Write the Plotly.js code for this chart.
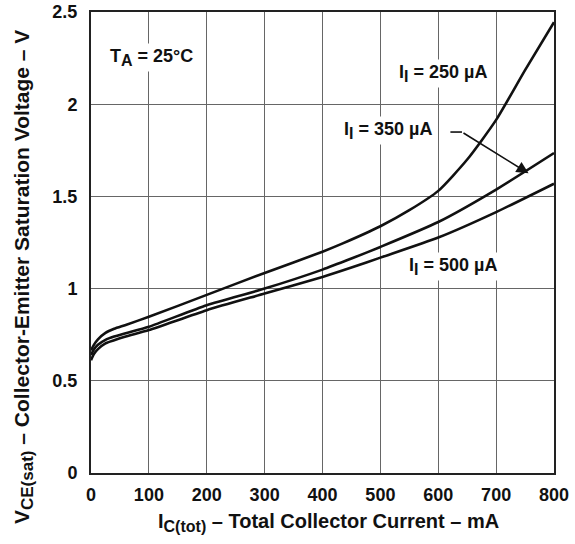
<!DOCTYPE html>
<html>
<head>
<meta charset="utf-8">
<script src="https://cdn.plot.ly/plotly-3.0.1.min.js"></script>
<style>html,body{margin:0;padding:0;background:#fff;}#chart{width:575px;height:544px;}</style>
</head>
<body>
<div id="chart"></div>
<script>
// Data
const x250 = [0, 5, 12, 25, 40, 60, 100, 200, 300, 400, 435, 500, 550, 600, 650, 700, 750, 800];
const y250 = [0.665, 0.695, 0.725, 0.76, 0.782, 0.803, 0.847, 0.966, 1.085, 1.20, 1.245, 1.338, 1.425, 1.53, 1.70, 1.915, 2.185, 2.445];

const x350 = [0, 5, 12, 25, 40, 60, 100, 200, 300, 400, 450, 500, 600, 700, 800];
const y350 = [0.64, 0.67, 0.695, 0.722, 0.74, 0.758, 0.793, 0.91, 1.0, 1.103, 1.163, 1.226, 1.361, 1.537, 1.735];

const x500 = [0, 5, 12, 25, 40, 60, 100, 200, 300, 400, 450, 500, 600, 700, 800];
const y500 = [0.612, 0.645, 0.672, 0.703, 0.72, 0.74, 0.775, 0.883, 0.973, 1.063, 1.114, 1.168, 1.277, 1.415, 1.569];

const xTicks = [0, 100, 200, 300, 400, 500, 600, 700, 800];
const yTicks = [0, 0.5, 1, 1.5, 2, 2.5];
const yTickText = ['0', '0.5', '1', '1.5', '2', '2.5'];

const FONT = 'Liberation Sans, Arial, Helvetica, sans-serif';
const lineStyle = {color: '#111', width: 2.6, shape: 'spline', smoothing: 0.6};

const traces = [
  {x: x250, y: y250, mode: 'lines', line: lineStyle, hoverinfo: 'skip'},
  {x: x350, y: y350, mode: 'lines', line: lineStyle, hoverinfo: 'skip'},
  {x: x500, y: y500, mode: 'lines', line: lineStyle, hoverinfo: 'skip'}
];

const labelFont = {family: FONT, size: 18, color: '#111', weight: 'bold'};
const sub = (s, px) => '<sub><span style="font-size:' + px + 'px">' + s + '</span></sub>';

const layout = {
  width: 575, height: 544,
  margin: {l: 91, r: 21, t: 12, b: 71},
  paper_bgcolor: '#fff', plot_bgcolor: '#fff',
  showlegend: false,
  font: {family: FONT, size: 17, color: '#111'},
  xaxis: {
    range: [0, 800], tickvals: xTicks, ticktext: xTicks.map(String),
    showgrid: true, gridcolor: '#666', gridwidth: 1,
    zeroline: false, showline: true, linecolor: '#222', linewidth: 2, mirror: true,
    ticks: '', tickfont: {family: FONT, size: 18, color: '#111', weight: 'bold'},
    ticklabelstandoff: 4
  },
  yaxis: {
    range: [0, 2.5], tickvals: yTicks, ticktext: yTickText,
    showgrid: true, gridcolor: '#666', gridwidth: 1,
    zeroline: false, showline: true, linecolor: '#222', linewidth: 2, mirror: true,
    ticks: '', tickfont: {family: FONT, size: 18, color: '#111', weight: 'bold'},
    ticklabelstandoff: 8
  },
  annotations: [
    {x: 0.512, y: -0.108, xref: 'paper', yref: 'paper', xanchor: 'center', yanchor: 'middle',
     text: 'I' + sub('C(tot)', 16) + ' – Total Collector Current – mA', showarrow: false,
     font: {family: FONT, size: 20, color: '#111', weight: 'bold'}},
    {x: -0.147, y: 0.425, xref: 'paper', yref: 'paper', xanchor: 'center', yanchor: 'middle', textangle: -90,
     text: 'V' + sub('CE(sat)', 17) + ' – Collector-Emitter Saturation Voltage – V', showarrow: false,
     font: {family: FONT, size: 21, color: '#111', weight: 'bold'}},
    {x: 105, y: 2.254, xref: 'x', yref: 'y', text: 'T' + sub('A', 16) + ' = 25°C', showarrow: false, font: labelFont, bgcolor: '#fff', borderpad: 2},
    {x: 609, y: 2.167, xref: 'x', yref: 'y', text: 'I' + sub('I', 16) + ' = 250 µA', showarrow: false, font: labelFont, bgcolor: '#fff', borderpad: 2},
    {x: 514, y: 1.858, xref: 'x', yref: 'y', text: 'I' + sub('I', 16) + ' = 350 µA', showarrow: false, font: labelFont, bgcolor: '#fff', borderpad: 2},
    {x: 625, y: 1.12, xref: 'x', yref: 'y', text: 'I' + sub('I', 16) + ' = 500 µA', showarrow: false, font: labelFont, bgcolor: '#fff', borderpad: 2},
    {x: 756, y: 1.625, xref: 'x', yref: 'y', ax: 641, ay: 1.849, axref: 'x', ayref: 'y', text: '', showarrow: true, arrowhead: 2, arrowsize: 1.5, arrowwidth: 1.6, arrowcolor: '#111', standoff: 0, startstandoff: 0}
  ],
  shapes: [
    {type: 'line', xref: 'x', yref: 'y', x0: 621, y0: 1.849, x1: 641, y1: 1.849, line: {color: '#111', width: 1.6}}
  ]
};

Plotly.newPlot('chart', traces, layout, {staticPlot: true, displayModeBar: false});
</script>
</body>
</html>
